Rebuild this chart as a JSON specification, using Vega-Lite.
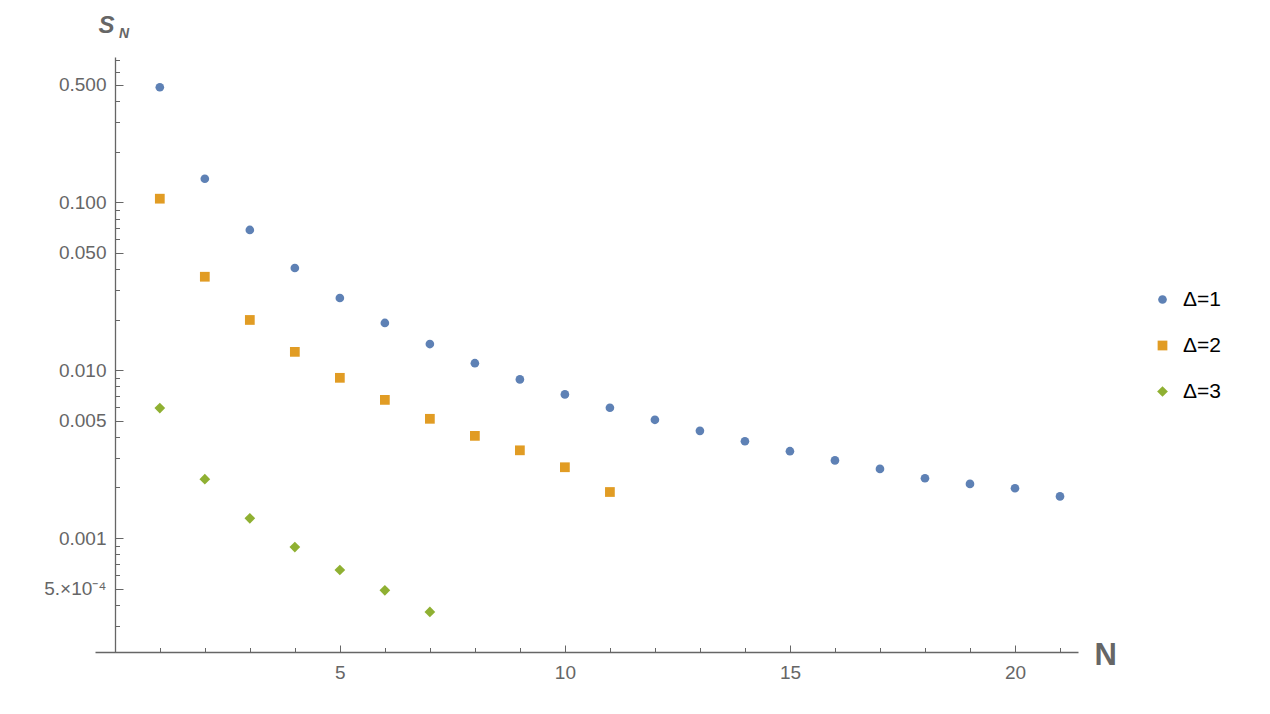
{
  "$schema": "https://vega.github.io/schema/vega-lite/v6.json",
  "autosize": {"type": "none"},
  "padding": {"left": 95, "top": 57, "right": 192, "bottom": 62},
  "width": 983,
  "height": 595,
  "background": "white",
  "title": {"text": "N", "orient": "top", "anchor": "start", "frame": "group", "font": "Liberation Sans", "fontSize": 14, "fontStyle": "italic", "fontWeight": "bold", "color": "#666666", "align": "left", "baseline": "alphabetic", "dx": 24, "dy": 39, "offset": 0},
  "config": {"view": {"stroke": null}, "font": "Liberation Sans"},
  "data": {"values": [
    {"n": 1, "s": 0.484, "delta": "Δ=1"},
    {"n": 2, "s": 0.138, "delta": "Δ=1"},
    {"n": 3, "s": 0.0684, "delta": "Δ=1"},
    {"n": 4, "s": 0.0406, "delta": "Δ=1"},
    {"n": 5, "s": 0.0269, "delta": "Δ=1"},
    {"n": 6, "s": 0.0191, "delta": "Δ=1"},
    {"n": 7, "s": 0.0143, "delta": "Δ=1"},
    {"n": 8, "s": 0.0110, "delta": "Δ=1"},
    {"n": 9, "s": 0.00881, "delta": "Δ=1"},
    {"n": 10, "s": 0.00717, "delta": "Δ=1"},
    {"n": 11, "s": 0.00597, "delta": "Δ=1"},
    {"n": 12, "s": 0.00506, "delta": "Δ=1"},
    {"n": 13, "s": 0.00435, "delta": "Δ=1"},
    {"n": 14, "s": 0.00377, "delta": "Δ=1"},
    {"n": 15, "s": 0.00329, "delta": "Δ=1"},
    {"n": 16, "s": 0.00290, "delta": "Δ=1"},
    {"n": 17, "s": 0.00258, "delta": "Δ=1"},
    {"n": 18, "s": 0.00227, "delta": "Δ=1"},
    {"n": 19, "s": 0.00210, "delta": "Δ=1"},
    {"n": 20, "s": 0.00198, "delta": "Δ=1"},
    {"n": 21, "s": 0.00177, "delta": "Δ=1"},
    {"n": 1, "s": 0.105, "delta": "Δ=2"},
    {"n": 2, "s": 0.0360, "delta": "Δ=2"},
    {"n": 3, "s": 0.0199, "delta": "Δ=2"},
    {"n": 4, "s": 0.01285, "delta": "Δ=2"},
    {"n": 5, "s": 0.0090, "delta": "Δ=2"},
    {"n": 6, "s": 0.00665, "delta": "Δ=2"},
    {"n": 7, "s": 0.00513, "delta": "Δ=2"},
    {"n": 8, "s": 0.00406, "delta": "Δ=2"},
    {"n": 9, "s": 0.00333, "delta": "Δ=2"},
    {"n": 10, "s": 0.00264, "delta": "Δ=2"},
    {"n": 11, "s": 0.00188, "delta": "Δ=2"},
    {"n": 1, "s": 0.00594, "delta": "Δ=3"},
    {"n": 2, "s": 0.00224, "delta": "Δ=3"},
    {"n": 3, "s": 0.00131, "delta": "Δ=3"},
    {"n": 4, "s": 0.000884, "delta": "Δ=3"},
    {"n": 5, "s": 0.000645, "delta": "Δ=3"},
    {"n": 6, "s": 0.000488, "delta": "Δ=3"},
    {"n": 7, "s": 0.000363, "delta": "Δ=3"}
  ]},
  "mark": {"type": "point", "filled": true, "opacity": 1},
  "encoding": {
    "x": {
      "field": "n", "type": "quantitative",
      "scale": {"domain": [-0.44, 21.4], "nice": false, "zero": false},
      "axis": {
        "values": [1,2,3,4,5,6,7,8,9,10,11,12,13,14,15,16,17,18,19,20,21],
        "labelExpr": "datum.value % 5 == 0 ? datum.value : ''",
        "grid": false,
        "domainColor": "#666666", "domainWidth": 1.3,
        "tickColor": "#666666", "tickWidth": 1,
        "tickSize": {"condition": {"test": "datum.value % 5 == 0", "value": -7}, "value": -4.5},
        "labelPadding": 27,
        "labelFont": "Liberation Sans", "labelFontSize": 19, "labelColor": "#666666",
        "labelBaseline": "middle",
        "title": "N", "titleFont": "Liberation Sans", "titleFontSize": 31, "titleFontWeight": "bold", "titleColor": "#666666",
        "titleAngle": 0, "titleAlign": "left", "titleBaseline": "alphabetic",
        "titleX": 999, "titleY": 12
      }
    },
    "y": {
      "field": "s", "type": "quantitative",
      "scale": {"type": "log", "domain": [0.0002095, 0.733], "nice": false},
      "axis": {
        "offset": -20,
        "values": [0.7,0.6,0.5,0.4,0.3,0.2,0.1,0.09,0.08,0.07,0.06,0.05,0.04,0.03,0.02,0.01,0.009,0.008,0.007,0.006,0.005,0.004,0.003,0.002,0.001,0.0009,0.0008,0.0007,0.0006,0.0005,0.0004,0.0003],
        "labelExpr": "indexof([0.5,0.1,0.05,0.01,0.005,0.001], datum.value) >= 0 ? format(datum.value, '.3f') : (datum.value == 0.0005 ? '5.×10⁻⁴' : '')",
        "grid": false,
        "domainColor": "#666666", "domainWidth": 1.3,
        "tickColor": "#666666", "tickWidth": 1,
        "tickSize": {"condition": {"test": "indexof([0.5,0.1,0.05,0.01,0.005,0.001,0.0005], datum.value) >= 0", "value": -8}, "value": -4.5},
        "labelPadding": 17,
        "labelFont": "Liberation Sans", "labelFontSize": 19, "labelColor": "#666666",
        "title": "S", "titleFont": "Liberation Sans", "titleFontSize": 24, "titleFontWeight": "bold", "titleFontStyle": "italic", "titleColor": "#666666",
        "titleAngle": 0, "titleAlign": "center", "titleBaseline": "alphabetic",
        "titleX": -9, "titleY": -25
      }
    },
    "color": {
      "field": "delta", "type": "nominal",
      "scale": {"domain": ["Δ=1", "Δ=2", "Δ=3"], "range": ["#5E81B5", "#E19C24", "#8FB032"]},
      "legend": {
        "title": null, "orient": "none", "legendX": 1057, "legendY": 232,
        "labelFont": "Liberation Sans", "labelFontSize": 21, "labelColor": "#000000",
        "labelOffset": 10, "rowPadding": 24, "symbolSize": 50, "padding": 0
      }
    },
    "shape": {
      "field": "delta", "type": "nominal",
      "scale": {"domain": ["Δ=1", "Δ=2", "Δ=3"], "range": ["circle", "square", "diamond"]}
    },
    "size": {
      "field": "delta", "type": "nominal",
      "scale": {"domain": ["Δ=1", "Δ=2", "Δ=3"], "range": [75, 115, 160]},
      "legend": null
    }
  }
}
